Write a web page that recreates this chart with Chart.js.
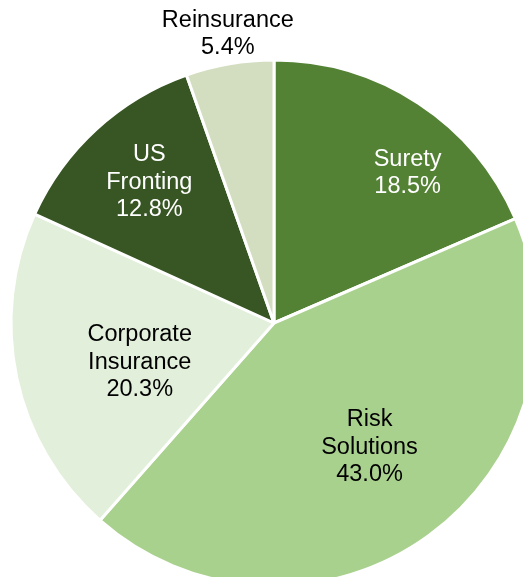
<!DOCTYPE html>
<html>
<head>
<meta charset="utf-8">
<script src="https://cdn.jsdelivr.net/npm/chart.js@4"></script>
<style>
  html, body { margin: 0; padding: 0; background: #ffffff; }
  #wrap { width: 523px; height: 577px; }
</style>
</head>
<body>
<div id="wrap"><canvas id="grafico" width="523" height="577"></canvas></div>
<script>
// datos del grafico
var segmentos = ['Surety', 'Risk Solutions', 'Corporate Insurance', 'US Fronting', 'Reinsurance'];
var porcentajes = [18.5, 43.0, 20.3, 12.8, 5.4];
var etiquetas = [['Surety'], ['Risk', 'Solutions'], ['Corporate', 'Insurance'], ['US', 'Fronting'], ['Reinsurance']];

var colores = ['#548235', '#a9d18e', '#e2efda', '#375623', '#d3ddbf'];
var coloresTexto = ['#ffffff', '#000000', '#000000', '#ffffff', '#000000'];
// donde va cada etiqueta: fraccion del radio y ajuste de angulo (grados)
var posEtiqueta = [[0.77, 8], [0.59, -2], [0.53, -3.5], [0.72, 1.3], [1.12, 0.7]];

//plugin para dibujar las etiquetas de cada porcion
var pluginEtiquetas = {
    id: 'etiquetas',
    afterDatasetsDraw: function (chart) {
        var ctx = chart.ctx;
        var meta = chart.getDatasetMeta(0);
        ctx.save();
        ctx.font = '23.5px "Liberation Sans", Arial, sans-serif';
        ctx.textAlign = 'center';
        ctx.textBaseline = 'middle';
        meta.data.forEach(function (arc, i) {
            var medio = (arc.startAngle + arc.endAngle) / 2 + posEtiqueta[i][1] * Math.PI / 180;
            var r = arc.outerRadius * posEtiqueta[i][0];
            var x = arc.x + Math.cos(medio) * r;
            var y = arc.y + Math.sin(medio) * r;
            var lineas = etiquetas[i].concat([porcentajes[i].toFixed(1) + '%']);
            var alto = 27.5;
            var y0 = y - (lineas.length - 1) * alto / 2 + 2;
            ctx.fillStyle = coloresTexto[i];
            lineas.forEach(function (t, j) {
                ctx.fillText(t, x, y0 + j * alto);
            });
        });
        ctx.restore();
    }
};

document.addEventListener('DOMContentLoaded', () => {
    let ctx = document.getElementById('grafico').getContext('2d');
    new Chart(ctx, {
        type: 'pie',
        data: {
            labels: segmentos,
            datasets: [{
                data: porcentajes,
                backgroundColor: colores,
                borderColor: '#ffffff',
                borderWidth: 3
            }]
        },
        options: {
            responsive: false,
            animation: false,
            radius: 263,
            layout: { padding: { top: 69, left: 25, right: 0, bottom: 0 } },
            plugins: {
                legend: { display: false },
                tooltip: { enabled: false }
            }
        },
        plugins: [pluginEtiquetas]
    });
});
</script>
</body>
</html>
